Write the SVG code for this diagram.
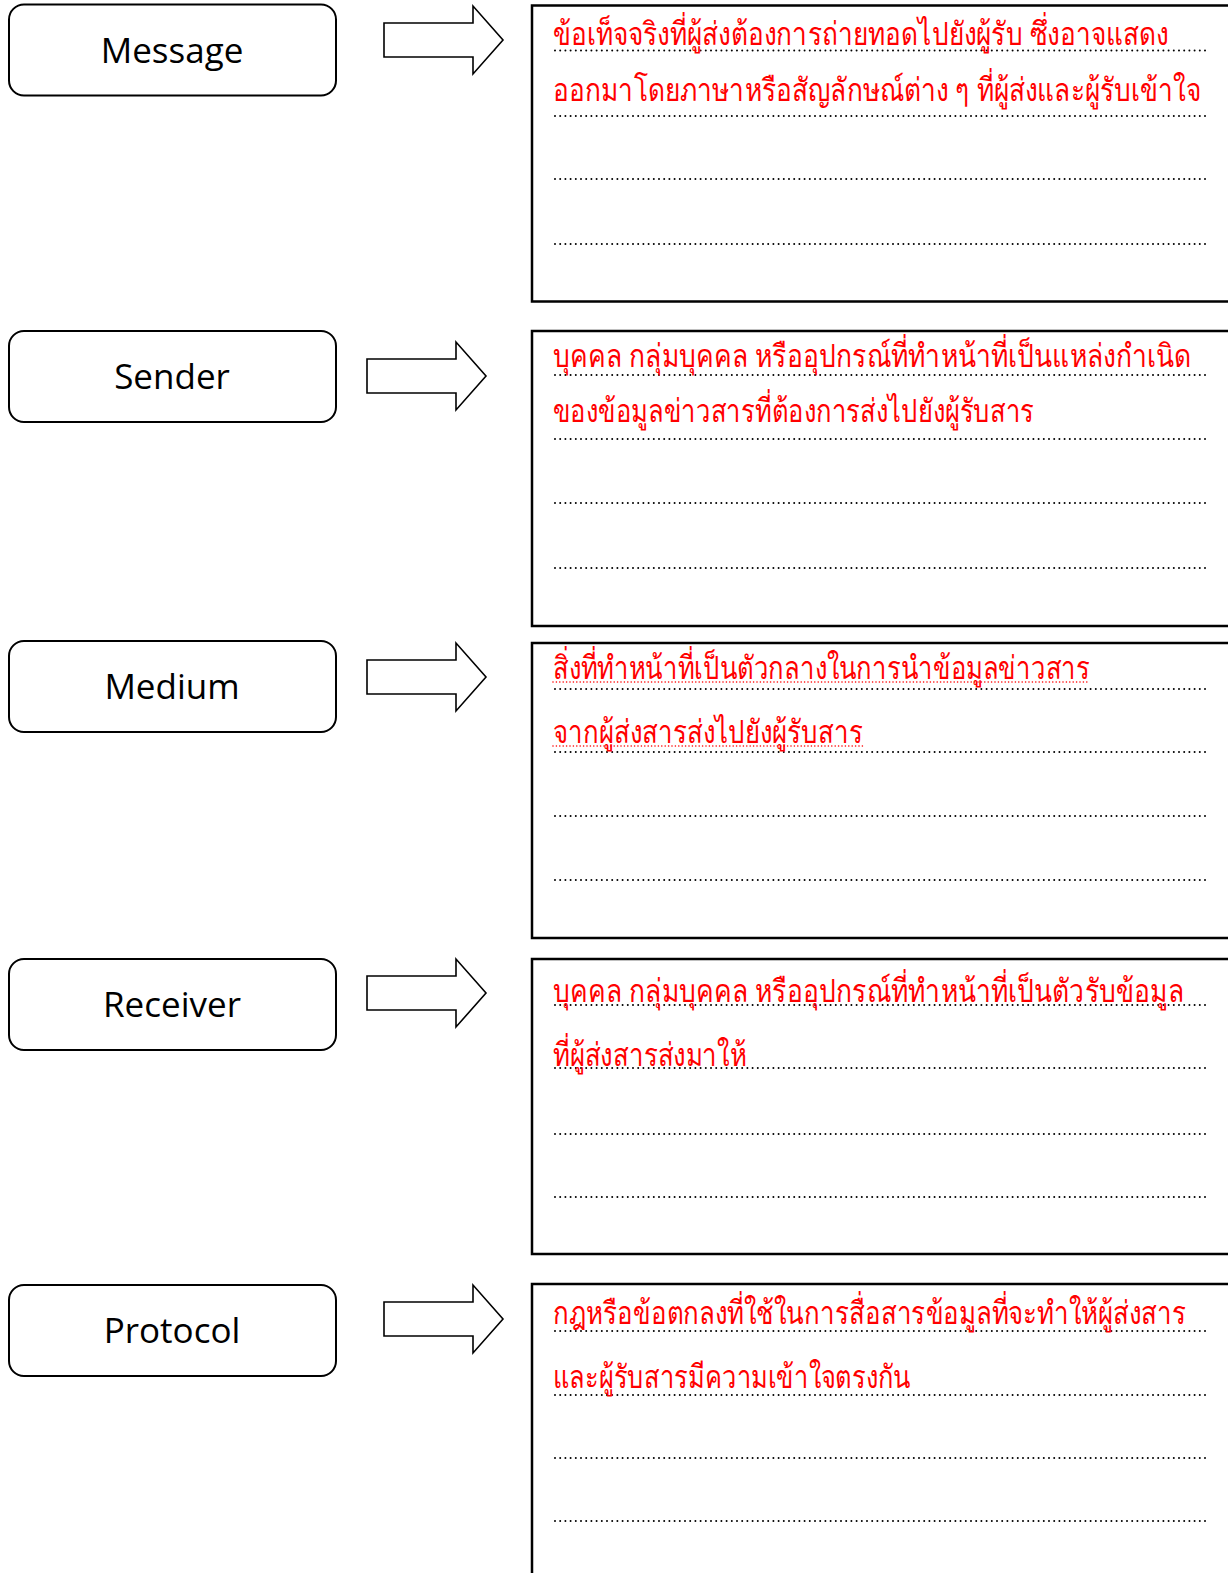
<svg xmlns="http://www.w3.org/2000/svg" width="1228" height="1573" viewBox="0 0 1228 1573">
<style>
.lbl{fill:#fff;stroke:#000;stroke-width:2}
.lt{font-family:"Open Sans","Noto Sans",sans-serif;font-size:35px;fill:#000;text-anchor:middle}
.box{fill:#fff;stroke:#000;stroke-width:2.5}
.arr{fill:#fff;stroke:#000;stroke-width:1.6;stroke-linejoin:miter}
.th{font-family:"Noto Sans","DejaVu Sans",sans-serif;font-size:32px;font-weight:300;fill:#ff0000}
.dot{stroke:#000;stroke-width:2;stroke-dasharray:0 5.2;stroke-linecap:round}
.rdot{stroke:#ff0000;stroke-width:1.6;stroke-dasharray:0 3.4;stroke-linecap:round}
</style>
<rect width="1228" height="1573" fill="#fff"/>

<g id="message">
<rect class="lbl" x="9" y="4.5" width="327" height="91" rx="15"/>
<text class="lt" x="172" y="63">Message</text>
</g>
<g id="sender">
<rect class="lbl" x="9" y="331" width="327" height="91" rx="15"/>
<text class="lt" x="172" y="389">Sender</text>
</g>
<g id="medium">
<rect class="lbl" x="9" y="641" width="327" height="91" rx="15"/>
<text class="lt" x="172" y="699">Medium</text>
</g>
<g id="receiver">
<rect class="lbl" x="9" y="959" width="327" height="91" rx="15"/>
<text class="lt" x="172" y="1017">Receiver</text>
</g>
<g id="protocol">
<rect class="lbl" x="9" y="1285" width="327" height="91" rx="15"/>
<text class="lt" x="172" y="1343">Protocol</text>
</g>

<g id="connectors">
<polygon class="arr" points="384,23 473,23 473,6 503,40 473,74 473,57 384,57"/>
<polygon class="arr" points="367,359 456,359 456,342 486,376 456,410 456,393 367,393"/>
<polygon class="arr" points="367,660 456,660 456,643 486,677 456,711 456,694 367,694"/>
<polygon class="arr" points="367,976 456,976 456,959 486,993 456,1027 456,1010 367,1010"/>
<polygon class="arr" points="384,1302 473,1302 473,1285 503,1319 473,1353 473,1336 384,1336"/>
</g>

<g id="message-def">
<path class="box" d="M1230,5.5 H532 V301.5 H1230"/>
<line class="dot" x1="555" y1="50.5" x2="1206" y2="50.5"/>
<line class="dot" x1="555" y1="116" x2="1206" y2="116"/>
<line class="dot" x1="555" y1="179" x2="1206" y2="179"/>
<line class="dot" x1="555" y1="244" x2="1206" y2="244"/>
<g transform="translate(553,0) scale(0.83,1)">
<text class="th" x="0" y="45" textLength="742" lengthAdjust="spacingAndGlyphs">ข้อเท็จจริงที่ผู้ส่งต้องการถ่ายทอดไปยังผู้รับ ซึ่งอาจแสดง</text>
<text class="th" x="0" y="101" textLength="781" lengthAdjust="spacingAndGlyphs">ออกมาโดยภาษาหรือสัญลักษณ์ต่าง ๆ ที่ผู้ส่งและผู้รับเข้าใจ</text>
</g>
</g>

<g id="sender-def">
<path class="box" d="M1230,331 H532 V626 H1230"/>
<line class="dot" x1="555" y1="375" x2="1206" y2="375"/>
<line class="dot" x1="555" y1="439" x2="1206" y2="439"/>
<line class="dot" x1="555" y1="503" x2="1206" y2="503"/>
<line class="dot" x1="555" y1="568" x2="1206" y2="568"/>
<g transform="translate(553,0) scale(0.83,1)">
<text class="th" x="0" y="367" textLength="769" lengthAdjust="spacingAndGlyphs">บุคคล กลุ่มบุคคล หรืออุปกรณ์ที่ทำหน้าที่เป็นแหล่งกำเนิด</text>
<text class="th" x="0" y="422" textLength="580" lengthAdjust="spacingAndGlyphs">ของข้อมูลข่าวสารที่ต้องการส่งไปยังผู้รับสาร</text>
</g>
</g>

<g id="medium-def">
<path class="box" d="M1230,643 H532 V938 H1230"/>
<line class="dot" x1="555" y1="689" x2="1206" y2="689"/>
<line class="dot" x1="555" y1="752" x2="1206" y2="752"/>
<line class="dot" x1="555" y1="816" x2="1206" y2="816"/>
<line class="dot" x1="555" y1="880" x2="1206" y2="880"/>
<g transform="translate(553,0) scale(0.83,1)">
<text class="th" x="0" y="679" textLength="647" lengthAdjust="spacingAndGlyphs">สิ่งที่ทำหน้าที่เป็นตัวกลางในการนำข้อมูลข่าวสาร</text>
<text class="th" x="0" y="743" textLength="373" lengthAdjust="spacingAndGlyphs">จากผู้ส่งสารส่งไปยังผู้รับสาร</text>
</g>
<line class="rdot" x1="553" y1="682" x2="1090" y2="682"/>
<line class="rdot" x1="553" y1="746" x2="863" y2="746"/>
</g>

<g id="receiver-def">
<path class="box" d="M1230,959 H532 V1254 H1230"/>
<line class="dot" x1="555" y1="1005" x2="1206" y2="1005"/>
<line class="dot" x1="555" y1="1068" x2="1206" y2="1068"/>
<line class="dot" x1="555" y1="1134" x2="1206" y2="1134"/>
<line class="dot" x1="555" y1="1197" x2="1206" y2="1197"/>
<g transform="translate(553,0) scale(0.83,1)">
<text class="th" x="0" y="1002" textLength="760" lengthAdjust="spacingAndGlyphs">บุคคล กลุ่มบุคคล หรืออุปกรณ์ที่ทำหน้าที่เป็นตัวรับข้อมูล</text>
<text class="th" x="0" y="1066" textLength="233" lengthAdjust="spacingAndGlyphs">ที่ผู้ส่งสารส่งมาให้</text>
</g>
</g>

<g id="protocol-def">
<path class="box" d="M1230,1284 H532 V1575"/>
<line class="dot" x1="555" y1="1331" x2="1206" y2="1331"/>
<line class="dot" x1="555" y1="1395" x2="1206" y2="1395"/>
<line class="dot" x1="555" y1="1458" x2="1206" y2="1458"/>
<line class="dot" x1="555" y1="1521" x2="1206" y2="1521"/>
<g transform="translate(553,0) scale(0.83,1)">
<text class="th" x="0" y="1324" textLength="763" lengthAdjust="spacingAndGlyphs">กฎหรือข้อตกลงที่ใช้ในการสื่อสารข้อมูลที่จะทำให้ผู้ส่งสาร</text>
<text class="th" x="0" y="1388" textLength="431" lengthAdjust="spacingAndGlyphs">และผู้รับสารมีความเข้าใจตรงกัน</text>
</g>
</g>
</svg>
